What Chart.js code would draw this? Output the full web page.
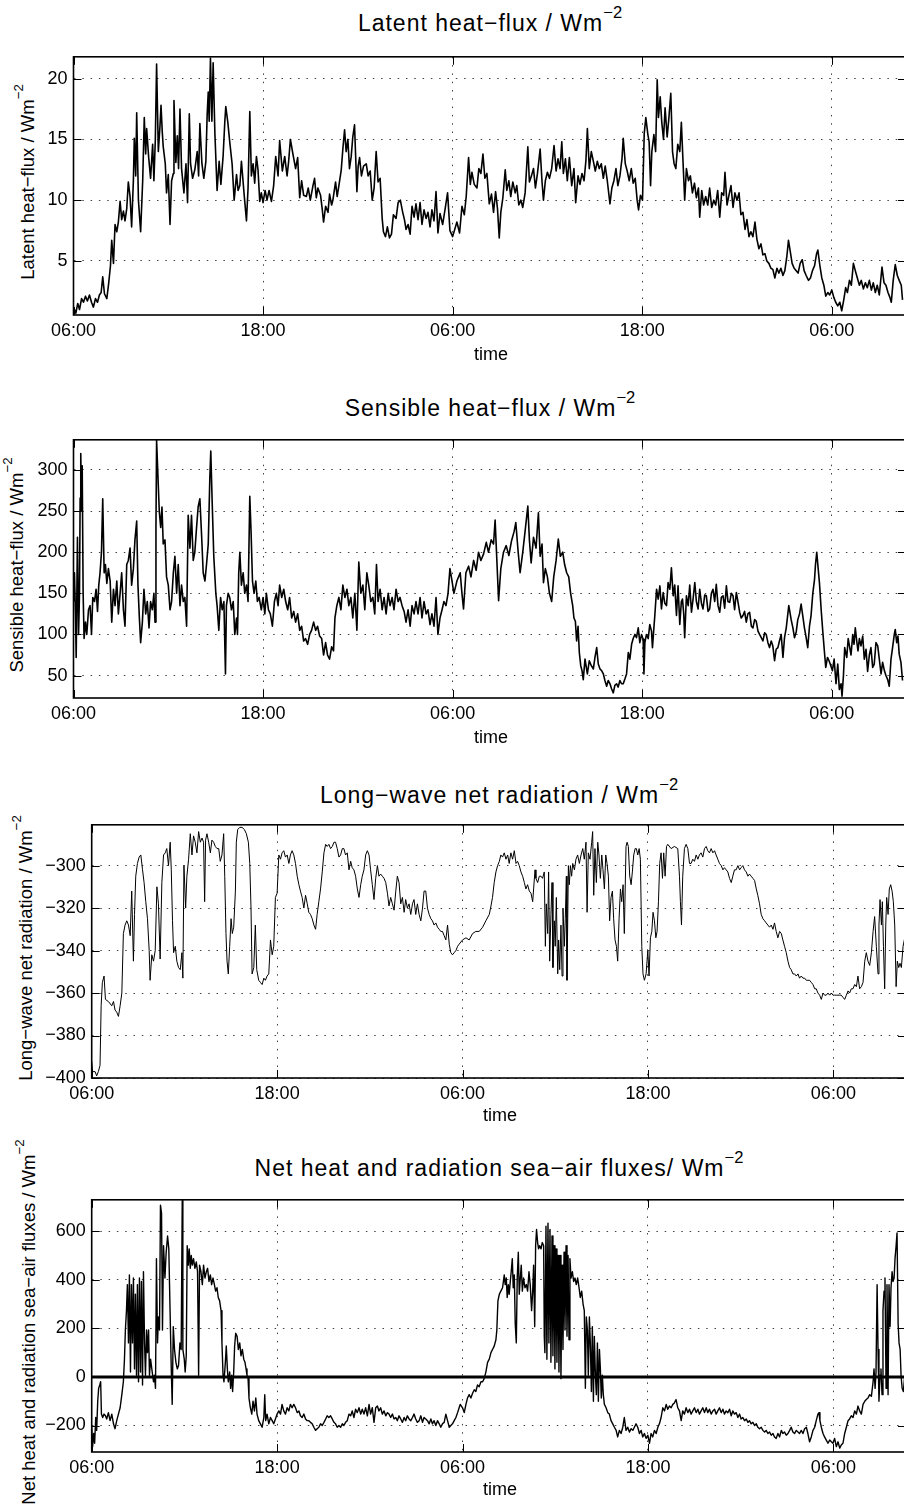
<!DOCTYPE html>
<html>
<head>
<meta charset="utf-8">
<script src="https://cdn.jsdelivr.net/npm/chart.js@4.4.1/dist/chart.umd.min.js"></script>
<style>
  html, body { margin: 0; padding: 0; background: #fff; }
  #page { position: relative; width: 904px; height: 1505px; overflow: hidden;
          font-family: "Liberation Sans", Arial, Helvetica, sans-serif; color: #000; }
  canvas { position: absolute; left: 0; }
  .title { position: absolute; font-size: 23px; line-height: 23px; letter-spacing: 1px;
           white-space: nowrap; transform: translateX(-50%); }
  .xlab { position: absolute; font-size: 18px; line-height: 18px; white-space: nowrap;
          transform: translateX(-50%); }
  .ylab { position: absolute; font-size: 18.5px; line-height: 18px; white-space: nowrap;
          transform: translate(-50%, -50%) rotate(-90deg); }
  .sup { position: relative; font-size: 0.72em; top: -0.79em; letter-spacing: 0; }
</style>
</head>
<body>
<div id="page">
  <div class="title" style="left:490px;top:12px">Latent heat−flux / Wm<span class="sup">−2</span></div>
  <div class="ylab" style="left:29px;top:182px">Latent heat−flux / Wm<span class="sup">−2</span></div>
  <canvas id="cLatent" width="910" height="310" style="top:40px"></canvas>
  <div class="xlab" style="left:491px;top:345px">time</div>

  <div class="title" style="left:490px;top:397px">Sensible heat−flux / Wm<span class="sup">−2</span></div>
  <div class="ylab" style="left:18px;top:565px">Sensible heat−flux / Wm<span class="sup">−2</span></div>
  <canvas id="cSensible" width="910" height="310" style="top:423px"></canvas>
  <div class="xlab" style="left:491px;top:728px">time</div>

  <div class="title" style="left:499px;top:784px">Long−wave net radiation / Wm<span class="sup">−2</span></div>
  <div class="ylab" style="left:27px;top:948px">Long−wave net radiation / Wm<span class="sup">−2</span></div>
  <canvas id="cLongwave" width="910" height="305" style="top:808px"></canvas>
  <div class="xlab" style="left:500px;top:1106px">time</div>

  <div class="title" style="left:499px;top:1157px">Net heat and radiation sea−air fluxes/ Wm<span class="sup">−2</span></div>
  <div class="ylab" style="left:30px;top:1322px">Net heat and radiation sea−air fluxes / Wm<span class="sup">−2</span></div>
  <canvas id="cNet" width="910" height="304" style="top:1183px"></canvas>
  <div class="xlab" style="left:500px;top:1480px">time</div>
</div>

<script>
// time axis: hours since 06:00 on the first day
const X_MAX = 52.7;
const timeTicks = [0, 12, 24, 36, 48];
const timeTickLabels = ['06:00', '18:00', '06:00', '18:00', '06:00'];

const latentTicks = [5, 10, 15, 20];
const sensibleTicks = [50, 100, 150, 200, 250, 300];
const longwaveTicks = [-400, -380, -360, -340, -320, -300];
const netTicks = [-200, 0, 200, 400, 600];

// latent heat flux (W m-2)
const latentT = [
  0.00,0.15,0.27,0.38,0.51,0.63,0.76,0.88,1.01,1.14,
  1.26,1.39,1.52,1.64,1.75,1.85,1.96,2.11,2.23,2.34,
  2.42,2.53,2.63,2.74,2.84,2.95,3.05,3.16,3.26,3.37,
  3.47,3.58,3.68,3.79,3.85,3.94,4.00,4.11,4.25,4.38,
  4.48,4.57,4.63,4.76,4.88,5.01,5.09,5.18,5.26,5.37,
  5.47,5.54,5.62,5.68,5.81,5.89,6.00,6.11,6.21,6.32,
  6.36,6.48,6.57,6.65,6.74,6.84,6.99,7.12,7.22,7.33,
  7.41,7.54,7.68,7.83,7.92,8.00,8.13,8.25,8.38,8.46,
  8.53,8.59,8.67,8.76,8.84,8.95,9.09,9.22,9.33,9.47,
  9.58,9.64,9.77,9.89,10.04,10.17,10.32,10.42,10.53,10.63,
  10.80,10.95,11.05,11.16,11.26,11.37,11.47,11.58,11.68,11.79,
  11.89,12.00,12.13,12.25,12.38,12.53,12.67,12.80,12.95,13.05,
  13.22,13.37,13.52,13.62,13.73,13.89,14.06,14.19,14.32,14.44,
  14.57,14.74,14.86,14.99,15.16,15.26,15.37,15.47,15.64,15.75,
  15.83,15.96,16.11,16.21,16.34,16.42,16.59,16.69,16.80,16.95,
  17.05,17.16,17.26,17.37,17.47,17.58,17.68,17.79,17.85,17.94,
  18.02,18.11,18.23,18.36,18.53,18.65,18.78,18.91,19.03,19.16,
  19.28,19.41,19.54,19.62,19.75,19.87,20.00,20.13,20.25,20.42,
  20.55,20.69,20.84,20.95,21.05,21.18,21.31,21.43,21.56,21.68,
  21.81,21.94,22.06,22.19,22.32,22.44,22.57,22.69,22.82,22.95,
  23.07,23.20,23.37,23.54,23.68,23.83,24.00,
  24.27,24.44,24.59,24.74,24.86,25.01,25.12,25.22,25.37,25.54,
  25.66,25.79,25.92,26.04,26.17,26.32,26.46,26.59,26.72,26.84,
  26.95,27.05,27.18,27.33,27.43,27.56,27.68,27.81,27.96,28.06,
  28.19,28.32,28.44,28.59,28.76,28.86,28.99,29.12,29.24,29.37,
  29.54,29.66,29.75,29.87,30.00,30.13,30.27,30.42,30.55,30.67,
  30.80,30.91,31.01,31.14,31.26,31.39,31.54,31.68,31.79,31.94,
  32.06,32.19,32.32,32.44,32.53,32.65,32.78,32.91,33.03,33.16,
  33.28,33.41,33.54,33.66,33.79,33.96,34.08,34.21,34.34,34.46,
  34.59,34.72,34.80,34.93,35.05,35.18,35.31,35.43,35.56,35.68,
  35.77,35.89,36.02,36.13,36.23,36.36,36.44,36.53,36.61,36.74,
  36.85,36.95,37.03,37.14,37.24,37.35,37.45,37.58,37.68,37.81,
  37.92,38.02,38.13,38.25,38.38,38.48,38.59,38.69,38.80,38.93,
  39.05,39.18,39.31,39.43,39.56,39.64,39.77,39.89,40.02,40.15,
  40.27,40.40,40.53,40.65,40.78,40.91,41.03,41.16,41.24,41.37,
  41.49,41.62,41.75,41.87,42.00,42.13,42.25,42.38,42.51,42.63,
  42.76,42.88,43.01,43.14,43.26,43.39,43.52,43.64,43.77,43.89,
  44.02,44.15,44.27,44.40,44.53,44.65,44.78,44.91,45.03,45.16,
  45.26,45.37,45.49,45.62,45.75,45.87,46.00,46.13,46.25,46.38,
  46.53,46.65,46.78,46.91,47.04,47.12,47.25,47.37,47.50,47.62,
  47.75,47.87,48.00,48.13,48.25,48.38,48.51,48.63,48.76,48.88,
  48.99,49.12,49.24,49.37,49.49,49.62,49.75,49.87,50.00,50.13,
  50.25,50.38,50.51,50.63,50.76,50.88,51.01,51.18,51.31,51.43,
  51.56,51.68,51.77,51.89,52.02,52.15,52.27,52.40,52.48
];
const latentV = [
  1.2,0.7,1.5,1.0,1.9,1.6,2.1,1.7,2.2,1.6,
  1.2,1.9,1.6,2.2,2.4,3.7,2.3,1.9,3.2,4.6,
  6.7,4.8,8.0,7.4,8.2,9.9,8.4,9.1,8.3,9.3,
  11.5,10.3,7.8,11.6,15.1,12.0,17.2,10.0,7.4,11.6,
  16.8,13.8,15.9,13.5,11.8,14.6,11.6,15.0,21.2,14.0,
  16.0,17.8,15.6,14.4,13.0,10.6,12.1,8.0,11.6,12.2,
  18.2,13.1,15.3,12.6,17.5,12.6,10.6,13.0,9.8,17.1,
  13.0,11.8,12.5,14.0,12.0,16.3,13.0,11.8,13.2,17.0,
  18.9,16.5,21.7,16.5,21.3,15.5,10.8,13.2,11.3,13.6,
  16.5,17.7,16.4,14.8,13.0,10.0,12.1,10.8,11.2,13.2,
  10.5,8.3,11.0,17.3,12.0,13.0,11.4,13.6,12.5,9.9,
  10.6,9.8,10.8,10.0,10.8,9.9,11.2,13.6,12.0,14.9,
  12.4,13.6,12.0,13.2,15.0,13.8,12.6,13.5,10.2,11.6,
  10.4,10.3,11.0,10.0,11.2,11.8,10.2,11.0,10.4,9.2,
  8.2,9.5,9.0,10.5,9.6,10.0,11.5,10.3,11.2,12.5,
  14.2,15.8,14.0,15.0,12.6,13.6,15.2,16.2,14.0,10.7,
  12.8,13.5,12.0,12.8,13.0,12.0,12.4,10.0,11.0,14.0,
  11.5,11.8,8.5,7.4,7.0,7.8,6.9,7.2,8.8,8.5,
  9.8,10.0,9.0,8.4,7.6,8.0,7.2,9.5,8.6,9.7,
  8.4,9.8,8.0,9.2,8.5,9.0,7.8,9.2,8.3,10.7,
  7.3,8.9,8.0,9.4,10.6,7.5,7.0,
  8.2,7.3,9.5,8.8,10.3,13.5,11.3,12.3,11.3,11.0,
  12.6,12.2,13.8,11.8,12.2,9.7,10.5,9.0,10.7,9.3,
  6.9,9.0,10.2,12.5,10.8,11.6,10.3,11.5,10.6,11.2,
  9.6,10.0,9.4,10.6,14.4,11.5,12.0,12.6,11.0,12.2,
  14.2,11.5,10.0,11.6,12.3,11.8,12.6,14.5,12.4,13.4,
  12.6,14.8,12.2,13.4,11.6,13.5,11.2,12.6,9.8,12.0,
  11.3,12.2,11.6,13.3,15.9,12.6,14.0,13.2,12.4,13.2,
  12.6,13.0,11.8,12.8,11.6,9.7,11.0,11.6,12.6,11.2,
  12.0,13.4,15.1,13.0,12.4,11.6,12.6,11.4,11.8,10.0,
  9.2,10.4,10.0,15.5,16.8,15.4,14.8,11.2,14.0,15.4,
  14.0,19.9,16.8,18.5,16.4,15.0,17.6,15.2,16.6,18.8,
  14.0,13.0,12.6,14.6,14.0,16.4,13.0,10.0,12.6,11.6,
  12.0,10.6,11.4,10.2,11.0,8.6,10.8,9.6,10.3,9.6,
  11.0,9.4,10.0,9.6,10.8,8.6,10.6,10.4,12.3,9.6,
  10.4,11.2,9.4,10.6,10.0,10.6,8.8,9.0,7.6,8.4,
  7.0,7.4,7.0,8.2,6.8,6.0,6.4,5.5,5.6,5.0,
  4.8,4.4,4.3,3.6,4.4,4.0,4.4,3.8,4.2,5.4,
  6.7,5.8,4.8,4.4,4.2,4.0,4.8,5.1,4.2,3.8,
  3.4,3.6,4.2,4.6,5.6,5.9,4.6,3.6,3.0,2.1,
  2.4,2.2,2.6,2.0,1.6,1.3,1.6,0.9,1.8,2.8,
  2.4,3.4,3.0,4.8,4.2,3.6,3.0,3.4,2.7,3.2,
  2.8,3.4,2.6,3.2,2.4,3.0,2.2,4.5,3.2,3.0,
  2.4,2.0,1.6,3.4,4.7,3.8,3.4,3.0,1.8
];

// sensible heat flux (W m-2)
const sensibleT = [
  0.00,0.06,0.13,0.17,0.25,0.32,0.38,0.42,0.46,0.51,
  0.55,0.61,0.67,0.76,0.84,0.95,1.05,1.14,1.22,1.33,
  1.43,1.52,1.60,1.68,1.77,1.85,1.94,2.02,2.11,2.21,
  2.32,2.42,2.53,2.63,2.74,2.84,2.95,3.05,3.16,3.26,
  3.37,3.47,3.58,3.68,3.79,3.89,4.00,4.08,4.17,4.25,
  4.36,4.46,4.57,4.67,4.78,4.88,4.99,5.09,5.16,5.22,
  5.26,5.35,5.43,5.52,5.60,5.68,5.79,5.89,6.00,6.11,
  6.21,6.32,6.42,6.53,6.63,6.74,6.84,6.95,7.05,7.16,
  7.26,7.37,7.47,7.58,7.68,7.79,7.89,8.00,8.11,8.21,
  8.32,8.42,8.53,8.63,8.69,8.78,8.88,9.01,9.09,9.20,
  9.31,9.41,9.52,9.62,9.68,9.79,9.89,10.00,10.11,10.21,
  10.32,10.38,10.46,10.53,10.63,10.74,10.84,10.95,11.05,11.16,
  11.24,11.33,11.43,11.54,11.64,11.75,11.89,12.00,12.11,12.21,
  12.34,12.46,12.59,12.72,12.84,12.95,13.05,13.18,13.31,13.43,
  13.56,13.68,13.81,13.94,14.06,14.19,14.32,14.44,14.57,14.69,
  14.82,14.95,15.07,15.20,15.33,15.45,15.58,15.71,15.83,15.96,
  16.08,16.21,16.34,16.46,16.55,16.67,16.80,16.93,17.05,17.18,
  17.31,17.43,17.56,17.68,17.81,17.94,18.06,18.19,18.32,18.44,
  18.57,18.69,18.82,18.95,19.07,19.18,19.28,19.41,19.54,19.66,
  19.79,19.92,20.04,20.17,20.29,20.42,20.55,20.67,20.80,20.93,
  21.05,21.18,21.31,21.43,21.56,21.68,21.81,21.94,22.06,22.19,
  22.32,22.44,22.57,22.69,22.82,22.95,23.07,23.20,23.33,23.45,
  23.58,23.71,23.83,23.96,24.08,24.21,
  24.27,24.48,24.59,24.69,24.84,25.01,25.16,25.33,25.49,25.64,
  25.79,25.96,26.13,26.27,26.44,26.59,26.69,26.80,26.91,27.05,
  27.22,27.39,27.56,27.73,27.89,28.00,28.15,28.27,28.44,28.59,
  28.76,28.86,28.97,29.12,29.28,29.43,29.54,29.66,29.75,29.87,
  30.00,30.13,30.27,30.40,30.55,30.69,30.82,30.97,31.09,31.22,
  31.35,31.47,31.60,31.68,31.77,31.85,31.94,32.02,32.11,32.19,
  32.27,32.38,32.53,32.65,32.78,32.91,33.01,33.12,33.22,33.33,
  33.43,33.54,33.64,33.75,33.85,33.96,34.06,34.17,34.27,34.38,
  34.48,34.59,34.69,34.80,34.91,35.01,35.12,35.22,35.33,35.43,
  35.54,35.64,35.75,35.85,35.96,36.06,36.11,36.17,36.27,36.38,
  36.48,36.59,36.65,36.74,36.80,36.91,37.01,37.12,37.22,37.33,
  37.43,37.54,37.64,37.75,37.85,37.96,38.06,38.17,38.27,38.38,
  38.48,38.55,38.63,38.69,38.80,38.91,39.01,39.12,39.22,39.33,
  39.43,39.54,39.64,39.75,39.85,39.96,40.06,40.17,40.27,40.38,
  40.48,40.59,40.69,40.80,40.91,41.01,41.12,41.22,41.33,41.43,
  41.54,41.64,41.75,41.85,41.96,42.06,42.17,42.27,42.38,42.48,
  42.59,42.69,42.80,42.91,43.01,43.12,43.22,43.33,43.43,43.54,
  43.64,43.75,43.85,43.96,44.06,44.17,44.27,44.38,44.48,44.59,
  44.69,44.80,44.91,45.01,45.12,45.22,45.28,45.37,45.43,45.54,
  45.64,45.75,45.85,45.96,46.06,46.17,46.27,46.38,46.48,46.59,
  46.69,46.80,46.91,46.97,47.05,47.14,47.22,47.33,47.43,47.54,
  47.62,47.73,47.83,47.94,48.04,48.15,48.27,48.38,48.48,48.59,
  48.65,48.74,48.82,48.95,49.04,49.12,49.22,49.33,49.41,49.49,
  49.58,49.66,49.75,49.85,49.96,50.06,50.17,50.27,50.38,50.48,
  50.59,50.69,50.80,50.91,51.01,51.12,51.22,51.33,51.43,51.54,
  51.64,51.75,51.85,51.96,52.02,52.11,52.19,52.27,52.38,52.48
];
const sensibleV = [
  140,175,120,72,218,100,150,266,320,250,
  305,150,95,115,100,130,135,100,145,140,
  155,128,160,175,200,265,175,185,162,180,
  165,115,155,135,165,125,150,175,130,110,
  185,190,205,160,180,215,238,160,120,90,
  115,155,125,140,108,140,130,150,115,230,
  336,290,250,230,255,210,215,170,160,130,
  140,175,195,150,185,135,160,140,145,110,
  245,205,245,190,200,230,255,265,220,175,
  165,185,210,290,323,260,195,150,135,105,
  145,130,140,52,135,150,145,130,140,100,
  120,100,175,200,160,175,150,160,140,268,
  225,165,150,165,140,145,130,145,125,150,
  130,125,110,140,150,135,160,145,155,140,
  130,145,120,128,115,125,105,110,92,95,
  88,100,105,115,105,110,98,95,75,90,
  75,70,85,80,120,135,145,130,160,145,
  155,135,145,120,150,105,188,150,160,130,
  175,160,140,145,125,185,140,155,130,145,
  125,150,135,145,130,155,140,145,135,128,
  115,130,110,135,125,140,125,145,120,140,
  125,130,112,125,110,145,100,120,130,140,
  135,150,180,165,150,160,
  165,175,150,131,175,183,170,190,178,200,
  190,198,212,200,215,210,239,190,141,180,
  200,208,196,214,225,236,200,175,200,226,
  256,215,187,218,205,248,195,210,163,180,
  170,150,140,170,190,216,195,200,185,175,
  170,150,135,120,116,92,110,78,62,56,
  45,70,52,68,62,58,72,84,64,58,
  56,52,44,37,44,40,34,29,38,40,
  36,44,40,40,46,52,78,70,88,95,
  100,96,108,90,100,94,52,90,100,95,
  112,104,84,108,123,155,143,159,131,151,
  138,135,163,155,181,147,160,123,159,112,
  140,143,125,96,147,135,160,127,143,163,
  140,131,155,138,131,148,147,128,131,150,
  155,140,161,135,127,145,147,132,159,140,
  139,150,147,130,151,140,127,120,123,128,
  115,125,127,110,108,118,116,104,100,96,
  92,102,100,90,84,92,86,68,82,84,
  92,100,72,96,108,125,135,125,118,108,
  96,103,118,125,137,122,108,96,84,110,
  123,150,167,185,200,180,163,130,104,78,
  60,72,68,62,56,70,40,64,33,40,
  25,50,84,72,95,86,75,100,88,108,
  92,80,95,86,98,70,82,55,75,84,
  60,64,90,86,70,52,66,56,50,45,
  37,70,84,100,106,90,98,76,66,44
];

// long-wave net radiation (W m-2)
const longwaveT = [
  0.00,0.06,0.22,0.32,0.43,0.54,0.61,0.69,0.80,0.89,
  1.08,1.30,1.41,1.51,1.62,1.73,1.84,1.95,2.05,2.16,
  2.27,2.38,2.49,2.59,2.70,2.77,2.85,2.96,3.07,3.18,
  3.29,3.39,3.50,3.61,3.72,3.78,3.89,4.00,4.11,4.22,
  4.32,4.43,4.54,4.65,4.76,4.86,4.97,5.08,5.15,5.23,
  5.30,5.41,5.51,5.62,5.73,5.84,5.90,5.97,6.08,6.16,
  6.27,6.38,6.49,6.59,6.70,6.81,6.92,7.03,7.14,7.24,
  7.31,7.37,7.46,7.57,7.68,7.78,7.89,8.00,8.11,8.22,
  8.32,8.43,8.54,8.61,8.69,8.76,8.84,8.93,9.02,9.10,
  9.19,9.30,9.36,9.45,9.58,9.73,9.88,10.01,10.14,10.23,
  10.31,10.38,10.49,10.59,10.68,10.81,10.92,11.03,11.14,11.24,
  11.35,11.46,11.57,11.68,11.78,11.89,12.00,12.11,12.22,12.32,
  12.43,12.54,12.65,12.76,12.86,12.97,13.08,13.19,13.30,13.41,
  13.51,13.62,13.73,13.84,13.95,14.05,14.16,14.27,14.38,14.49,
  14.59,14.70,14.81,14.92,15.03,15.14,15.24,15.35,15.46,15.57,
  15.68,15.78,15.89,16.00,16.11,16.22,16.32,16.43,16.54,16.65,
  16.76,16.86,16.97,17.08,17.19,17.30,17.41,17.51,17.62,17.73,
  17.84,17.95,18.05,18.16,18.27,18.38,18.49,18.59,18.70,18.81,
  18.92,19.03,19.14,19.24,19.35,19.46,19.57,19.68,19.78,19.89,
  20.00,20.11,20.22,20.32,20.43,20.54,20.65,20.76,20.86,20.97,
  21.08,21.19,21.30,21.41,21.51,21.62,21.73,21.84,21.95,22.05,
  22.16,22.27,22.38,22.49,22.59,22.70,22.81,22.92,23.03,23.14,
  23.24,23.35,23.46,23.57,23.68,23.78,
  24.00,24.22,24.43,24.65,24.86,25.08,25.30,25.51,25.73,25.84,
  25.94,26.05,26.16,26.27,26.38,26.48,26.59,26.70,26.81,26.92,
  27.02,27.13,27.24,27.35,27.46,27.56,27.67,27.78,27.89,28.00,
  28.10,28.21,28.32,28.43,28.54,28.60,28.69,28.75,28.86,28.97,
  29.08,29.18,29.29,29.36,29.42,29.51,29.57,29.64,29.72,29.79,
  29.85,29.94,30.00,30.07,30.16,30.22,30.29,30.37,30.44,30.50,
  30.59,30.65,30.72,30.76,30.85,30.91,30.98,31.06,31.13,31.24,
  31.34,31.45,31.56,31.67,31.78,31.88,31.99,32.06,32.14,32.25,
  32.36,32.42,32.49,32.57,32.66,32.75,32.83,32.92,33.01,33.09,
  33.18,33.27,33.35,33.44,33.52,33.61,33.70,33.78,33.87,33.96,
  34.04,34.13,34.22,34.30,34.39,34.47,34.58,34.65,34.73,34.82,
  34.91,34.99,35.08,35.17,35.25,35.34,35.43,35.51,35.60,35.68,
  35.77,35.88,35.99,36.07,36.16,36.25,36.33,36.42,36.51,36.59,
  36.68,36.76,36.85,36.94,37.02,37.11,37.20,37.28,37.50,37.71,
  37.93,38.04,38.10,38.17,38.25,38.36,38.47,38.58,38.69,38.79,
  38.90,39.01,39.12,39.23,39.33,39.44,39.55,39.66,39.77,39.87,
  39.98,40.09,40.20,40.31,40.41,40.52,40.63,40.74,40.85,40.95,
  41.06,41.17,41.28,41.39,41.49,41.60,41.71,41.82,41.93,42.03,
  42.14,42.25,42.36,42.47,42.57,42.68,42.79,42.90,43.01,43.11,
  43.22,43.33,43.44,43.55,43.65,43.76,43.87,43.98,44.09,44.19,
  44.30,44.41,44.52,44.63,44.73,44.84,44.95,45.06,45.17,45.27,
  45.38,45.49,45.60,45.71,45.81,45.92,46.03,46.14,46.25,46.35,
  46.46,46.57,46.68,46.79,46.89,47.00,47.11,47.22,47.33,47.43,
  47.54,47.65,47.76,47.87,47.97,48.08,48.19,48.30,48.41,48.51,
  48.62,48.73,48.84,48.95,49.05,49.16,49.27,49.38,49.49,49.59,
  49.70,49.81,49.92,50.03,50.13,50.24,50.35,50.46,50.57,50.67,
  50.78,50.89,50.95,51.02,51.11,51.17,51.24,51.32,51.39,51.45,
  51.54,51.62,51.71,51.80,51.88,51.97,52.06,52.14,52.23,52.31,
  52.40,52.51,52.62
];
const longwaveV = [
  -392,-397,-397,-399,-397,-394,-366,-355,-352,-363,
  -364,-366,-364,-368,-369,-371,-366,-360,-332,-328,
  -326,-328,-333,-312,-345,-323,-305,-299,-296,-295,
  -302,-308,-317,-325,-340,-354,-342,-345,-340,-310,
  -318,-344,-308,-295,-294,-292,-300,-289,-302,-326,
  -341,-338,-345,-348,-349,-341,-353,-300,-320,-305,
  -297,-285,-295,-286,-289,-294,-284,-289,-287,-289,
  -317,-288,-285,-289,-294,-288,-289,-291,-292,-292,
  -298,-295,-285,-305,-332,-345,-351,-338,-325,-332,
  -329,-312,-289,-283,-282,-282,-283,-285,-289,-299,
  -320,-351,-348,-328,-349,-354,-355,-356,-353,-354,
  -352,-351,-335,-342,-338,-315,-313,-295,-297,-294,
  -293,-296,-295,-299,-295,-293,-295,-299,-305,-309,
  -312,-315,-320,-314,-318,-322,-323,-325,-328,-330,
  -323,-317,-311,-303,-294,-290,-291,-290,-292,-291,
  -289,-289,-292,-296,-295,-292,-292,-295,-294,-302,
  -298,-301,-302,-305,-311,-315,-309,-305,-302,-295,
  -293,-295,-302,-309,-316,-306,-300,-305,-304,-305,
  -306,-308,-313,-319,-315,-318,-321,-312,-305,-308,
  -318,-315,-322,-316,-320,-318,-323,-318,-316,-323,
  -318,-323,-326,-320,-312,-312,-320,-323,-325,-326,
  -328,-327,-329,-330,-331,-331,-333,-335,-328,-337,
  -341,-342,-341,-340,-338,-337,
  -335,-334,-335,-332,-331,-331,-329,-326,-323,-319,
  -315,-308,-303,-300,-298,-295,-296,-294,-297,-295,
  -299,-294,-297,-293,-299,-298,-300,-303,-305,-308,
  -311,-309,-312,-313,-317,-311,-302,-306,-308,-305,
  -305,-306,-303,-338,-318,-332,-303,-345,-323,-308,
  -348,-326,-338,-315,-351,-335,-349,-328,-352,-320,
  -338,-325,-305,-354,-300,-309,-300,-305,-299,-302,
  -297,-295,-299,-295,-292,-297,-289,-322,-294,-297,
  -289,-284,-314,-292,-308,-289,-295,-306,-295,-302,
  -311,-295,-299,-305,-326,-315,-312,-325,-335,-338,
  -345,-325,-311,-317,-309,-332,-291,-289,-291,-305,
  -309,-303,-295,-292,-292,-295,-292,-297,-338,-351,
  -354,-351,-340,-352,-334,-331,-322,-326,-334,-331,
  -317,-299,-294,-306,-294,-305,-291,-290,-292,-291,
  -292,-305,-317,-328,-305,-292,-290,-292,-299,-299,
  -297,-298,-295,-297,-295,-294,-296,-292,-291,-293,
  -294,-292,-294,-293,-295,-297,-299,-300,-302,-301,
  -302,-303,-306,-308,-305,-302,-302,-300,-302,-301,
  -300,-302,-303,-305,-304,-305,-306,-307,-311,-314,
  -318,-323,-325,-326,-327,-328,-329,-328,-330,-327,
  -331,-334,-331,-332,-335,-338,-341,-345,-348,-349,
  -351,-351,-352,-351,-353,-352,-353,-353,-354,-354,
  -354,-355,-356,-358,-358,-360,-361,-363,-360,-361,
  -361,-360,-361,-360,-361,-361,-361,-361,-361,-361,
  -362,-363,-361,-359,-360,-358,-358,-356,-357,-352,
  -358,-357,-355,-345,-341,-345,-347,-341,-331,-324,
  -338,-351,-328,-316,-328,-317,-338,-358,-328,-315,
  -323,-311,-309,-312,-317,-328,-357,-345,-348,-346,
  -348,-338,-334
];

// net heat and radiation sea-air flux (W m-2)
const netT = [
  0.00,0.06,0.13,0.19,0.26,0.32,0.39,0.45,0.52,0.58,
  0.63,0.71,0.80,0.89,0.97,1.08,1.19,1.30,1.41,1.51,
  1.62,1.73,1.84,1.95,2.05,2.12,2.18,2.25,2.31,2.38,
  2.44,2.51,2.57,2.64,2.70,2.77,2.83,2.90,2.96,3.03,
  3.09,3.16,3.22,3.29,3.35,3.42,3.48,3.55,3.61,3.68,
  3.74,3.81,3.89,4.00,4.06,4.13,4.19,4.26,4.32,4.39,
  4.45,4.52,4.58,4.65,4.74,4.82,4.91,4.99,5.08,5.15,
  5.21,5.28,5.36,5.45,5.54,5.62,5.71,5.79,5.86,5.90,
  5.99,6.05,6.12,6.18,6.25,6.31,6.38,6.44,6.51,6.59,
  6.68,6.77,6.85,6.92,6.98,7.07,7.16,7.24,7.33,7.42,
  7.50,7.59,7.68,7.76,7.85,7.94,8.02,8.11,8.19,8.28,
  8.37,8.43,8.50,8.56,8.65,8.71,8.78,8.84,8.93,8.99,
  9.06,9.12,9.19,9.25,9.32,9.41,9.49,9.58,9.66,9.75,
  9.84,9.92,9.99,10.05,10.12,10.18,10.27,10.36,10.44,10.53,
  10.62,10.70,10.81,10.92,11.03,11.14,11.20,11.26,11.35,11.46,
  11.57,11.68,11.78,11.89,12.00,12.11,12.22,12.32,12.43,12.54,
  12.65,12.76,12.86,12.97,13.08,13.19,13.30,13.41,13.51,13.62,
  13.73,13.84,13.95,14.05,14.16,14.27,14.38,14.49,14.59,14.70,
  14.81,14.92,15.03,15.14,15.24,15.35,15.46,15.57,15.68,15.78,
  15.89,16.00,16.11,16.22,16.32,16.43,16.54,16.65,16.76,16.86,
  16.97,17.08,17.19,17.30,17.41,17.51,17.62,17.73,17.84,17.95,
  18.05,18.16,18.27,18.38,18.49,18.59,18.70,18.81,18.92,19.03,
  19.14,19.24,19.35,19.46,19.57,19.68,19.78,19.89,20.00,20.11,
  20.22,20.32,20.43,20.54,20.65,20.76,20.86,20.97,21.08,21.19,
  21.30,21.41,21.51,21.62,21.73,21.84,21.95,22.05,22.16,22.27,
  22.38,22.49,22.59,22.70,22.81,22.92,23.03,23.14,23.24,23.35,
  23.46,23.57,23.68,23.78,
  23.85,24.00,24.11,24.22,24.32,24.43,24.54,24.65,24.76,24.86,
  24.97,25.08,25.19,25.30,25.40,25.51,25.62,25.73,25.84,25.94,
  26.05,26.16,26.22,26.29,26.38,26.48,26.59,26.70,26.76,26.83,
  26.89,26.96,27.02,27.09,27.15,27.22,27.28,27.35,27.41,27.48,
  27.54,27.61,27.67,27.74,27.80,27.87,27.95,28.04,28.13,28.21,
  28.30,28.38,28.47,28.54,28.60,28.67,28.73,28.79,28.86,28.92,
  28.99,29.08,29.16,29.25,29.29,29.33,29.40,29.46,29.53,29.59,
  29.66,29.72,29.79,29.85,29.92,29.98,30.05,30.11,30.18,30.24,
  30.31,30.37,30.44,30.50,30.57,30.63,30.70,30.76,30.83,30.89,
  30.95,31.02,31.11,31.19,31.28,31.36,31.45,31.54,31.62,31.71,
  31.80,31.88,31.95,32.01,32.08,32.14,32.21,32.27,32.34,32.40,
  32.47,32.53,32.60,32.66,32.73,32.79,32.86,32.92,32.98,33.05,
  33.11,33.18,33.29,33.40,33.50,33.61,33.72,33.83,33.94,34.04,
  34.15,34.26,34.37,34.47,34.58,34.69,34.80,34.91,35.02,35.12,
  35.23,35.34,35.45,35.56,35.66,35.77,35.88,35.99,36.10,36.20,
  36.31,36.42,36.53,36.64,36.74,36.85,36.96,37.07,37.18,37.28,
  37.39,37.50,37.61,37.71,37.82,37.93,38.04,38.15,38.25,38.36,
  38.47,38.58,38.69,38.79,38.90,39.01,39.12,39.23,39.33,39.44,
  39.55,39.66,39.77,39.87,39.98,40.09,40.20,40.31,40.41,40.52,
  40.63,40.74,40.85,40.95,41.06,41.17,41.28,41.39,41.49,41.60,
  41.71,41.82,41.93,42.03,42.14,42.25,42.36,42.47,42.57,42.68,
  42.79,42.90,43.01,43.11,43.22,43.33,43.44,43.55,43.65,43.76,
  43.87,43.98,44.09,44.19,44.30,44.41,44.52,44.63,44.73,44.84,
  44.95,45.06,45.17,45.27,45.38,45.49,45.60,45.71,45.81,45.92,
  46.03,46.14,46.25,46.35,46.46,46.57,46.68,46.79,46.89,47.00,
  47.07,47.13,47.22,47.33,47.43,47.54,47.65,47.76,47.87,47.97,
  48.08,48.19,48.30,48.41,48.51,48.62,48.73,48.84,48.95,49.05,
  49.16,49.27,49.38,49.49,49.59,49.70,49.81,49.92,50.03,50.13,
  50.24,50.35,50.46,50.57,50.63,50.70,50.76,50.83,50.89,50.95,
  51.02,51.08,51.15,51.21,51.28,51.34,51.41,51.47,51.54,51.60,
  51.67,51.73,51.80,51.86,51.93,51.99,52.06,52.12,52.19,52.25,
  52.32,52.38,52.45,52.53,52.62
];
const netV = [
  -207,-287,-233,-273,-167,-220,-100,-47,-33,-20,
  -153,-167,-153,-160,-173,-147,-180,-153,-193,-213,
  -180,-153,-127,-73,-20,73,193,273,380,140,
  420,20,380,140,407,33,340,7,380,-20,
  407,20,393,-33,433,140,7,193,100,193,
  7,73,33,-20,7,-47,487,140,247,193,
  707,673,193,540,407,513,580,527,247,33,
  -113,207,113,60,33,47,140,113,727,113,
  73,20,87,540,460,527,447,500,460,487,
  447,473,433,7,460,433,380,460,407,433,
  447,393,420,380,407,380,353,367,327,313,
  273,140,7,-20,60,127,33,-20,20,-47,
  7,-60,20,127,180,167,113,140,87,113,
  73,60,33,7,-7,-87,-127,-153,-100,-140,
  -87,-153,-180,-193,-207,-167,-73,-180,-153,-193,
  -167,-180,-193,-173,-153,-140,-153,-113,-140,-153,
  -127,-140,-113,-127,-113,-127,-147,-140,-160,-167,
  -153,-173,-180,-180,-187,-193,-207,-220,-213,-207,
  -193,-200,-187,-173,-160,-167,-160,-173,-187,-193,
  -207,-200,-207,-193,-200,-187,-180,-153,-160,-140,
  -167,-133,-147,-127,-153,-133,-153,-127,-160,-113,
  -153,-127,-187,-127,-120,-140,-127,-153,-140,-160,
  -147,-153,-167,-153,-173,-167,-180,-160,-173,-187,
  -167,-180,-160,-173,-180,-167,-153,-173,-187,-180,
  -160,-187,-167,-173,-180,-193,-173,-193,-180,-200,
  -180,-193,-207,-193,-187,-153,-180,-207,-200,-193,
  -180,-167,-147,-127,
  -113,-127,-147,-113,-87,-73,-87,-67,-53,-60,
  -33,-40,-20,-20,-7,20,60,73,100,113,
  127,153,193,313,340,353,367,420,380,407,
  327,380,340,393,433,487,367,420,220,140,
  407,513,340,407,460,353,407,367,380,353,
  433,380,273,353,460,207,540,607,553,527,
  540,527,553,540,167,100,620,73,633,140,
  607,60,580,87,540,33,527,60,500,20,
  500,-7,460,113,513,193,540,167,500,153,
  487,407,433,393,407,380,407,367,327,353,
  300,273,-47,247,193,7,247,140,-60,207,
  -100,167,7,-73,140,-100,113,33,-87,7,
  -73,-113,-127,-147,-153,-180,-193,-207,-220,-247,
  -220,-233,-207,-167,-220,-207,-227,-213,-220,-207,
  -193,-207,-233,-220,-247,-233,-253,-240,-273,-233,
  -247,-220,-233,-207,-193,-167,-127,-140,-113,-133,
  -120,-127,-113,-107,-93,-127,-140,-180,-140,-153,
  -127,-147,-133,-153,-140,-127,-147,-133,-153,-140,
  -127,-147,-127,-147,-133,-153,-140,-133,-153,-140,
  -127,-147,-133,-153,-140,-147,-133,-160,-140,-153,
  -147,-167,-153,-173,-167,-180,-173,-187,-180,-193,
  -187,-200,-193,-207,-213,-207,-220,-227,-220,-233,
  -227,-240,-233,-247,-253,-233,-247,-220,-233,-227,
  -240,-233,-220,-207,-227,-233,-220,-227,-233,-220,
  -233,-213,-207,-233,-267,-247,-220,-207,-180,-153,
  -147,-180,-207,-233,-247,-260,-273,-260,-267,-273,
  -253,-287,-267,-293,-280,-273,-233,-207,-180,-173,
  -160,-167,-140,-153,-120,-140,-153,-113,-100,-93,
  -87,-73,-80,-20,33,-47,20,380,113,-100,
  7,33,-73,273,353,407,-47,380,-73,380,
  207,367,433,393,407,487,540,593,220,140,
  113,7,-47,-60,7
];
const netZeroT = [0, X_MAX];
const netZeroV = [0, 0];

Chart.defaults.font.family = '"Liberation Sans", Arial, Helvetica, sans-serif';
Chart.defaults.font.size = 18;
Chart.defaults.color = '#000';

const TICK_LEN = 8;

function toPoints(ts, vs) {
  return ts.map((t, i) => ({ x: t, y: vs[i] }));
}

function fmtTick(v) {
  return String(v).replace('-', '\u2212');
}

// box round the axes plus inward tick marks on all four sides
const boxFrame = {
  id: 'boxFrame',
  afterDatasetsDraw(chart) {
    const { ctx, chartArea: a, scales: { x, y } } = chart;
    ctx.save();
    ctx.strokeStyle = '#000';
    ctx.lineWidth = 1;
    ctx.beginPath();
    x.ticks.forEach(t => {
      const px = Math.round(x.getPixelForValue(t.value)) + 0.5;
      ctx.moveTo(px, a.bottom); ctx.lineTo(px, a.bottom - TICK_LEN);
      ctx.moveTo(px, a.top); ctx.lineTo(px, a.top + TICK_LEN);
    });
    y.ticks.forEach(t => {
      const py = Math.round(y.getPixelForValue(t.value)) + 0.5;
      ctx.moveTo(a.left, py); ctx.lineTo(a.left + TICK_LEN, py);
      ctx.moveTo(a.right, py); ctx.lineTo(a.right - TICK_LEN, py);
    });
    ctx.stroke();
    ctx.lineWidth = 1.6;
    ctx.strokeRect(a.left, a.top, a.right - a.left, a.bottom - a.top);
    ctx.restore();
  }
};

const gridOpts = { color: 'rgba(0,0,0,0.75)', lineWidth: 1, drawTicks: false };
const borderOpts = { display: false, dash: [1.5, 6.8] };

function drawPanel(cfg) {
  const datasets = [];
  if (cfg.zeroT) {
    datasets.push({ data: toPoints(cfg.zeroT, cfg.zeroV), borderColor: '#000', borderWidth: 3 });
  }
  datasets.push({ data: toPoints(cfg.t, cfg.v), borderColor: '#000', borderWidth: cfg.lineWidth });

  return new Chart(document.getElementById(cfg.id), {
    type: 'line',
    data: { datasets },
    options: {
      responsive: false,
      animation: false,
      devicePixelRatio: 1,
      events: [],
      layout: { padding: { top: 10, right: 4, left: 0, bottom: 0 } },
      elements: { point: { radius: 0 }, line: { tension: 0, borderJoinStyle: 'round' } },
      plugins: { legend: { display: false }, tooltip: { enabled: false } },
      scales: {
        x: {
          type: 'linear', min: 0, max: X_MAX,
          afterBuildTicks: s => { s.ticks = timeTicks.map(v => ({ value: v })); },
          afterFit: s => { s.height = 35; },
          ticks: { autoSkip: false, maxRotation: 0, padding: 5,
                   callback: (v, i) => timeTickLabels[i] },
          grid: gridOpts,
          border: borderOpts
        },
        y: {
          type: 'linear', min: cfg.min, max: cfg.max,
          afterBuildTicks: s => { s.ticks = cfg.ticks.map(v => ({ value: v })); },
          afterFit: s => { s.width = cfg.left; },
          ticks: { autoSkip: false, padding: 6, callback: v => fmtTick(v) },
          grid: gridOpts,
          border: borderOpts
        }
      }
    },
    plugins: [boxFrame]
  });
}

drawPanel({ id: 'cLatent', left: 73.5, min: 0.55, max: 21.8, ticks: latentTicks,
            t: latentT, v: latentV, lineWidth: 1.6 });
drawPanel({ id: 'cSensible', left: 73.5, min: 22.7, max: 336.7, ticks: sensibleTicks,
            t: sensibleT, v: sensibleV, lineWidth: 1.6 });
drawPanel({ id: 'cLongwave', left: 91.7, min: -400, max: -280.8, ticks: longwaveTicks,
            t: longwaveT, v: longwaveV, lineWidth: 1.0 });
drawPanel({ id: 'cNet', left: 91.7, min: -309, max: 729, ticks: netTicks,
            t: netT, v: netV, lineWidth: 1.4, zeroT: netZeroT, zeroV: netZeroV });
</script>
</body>
</html>
